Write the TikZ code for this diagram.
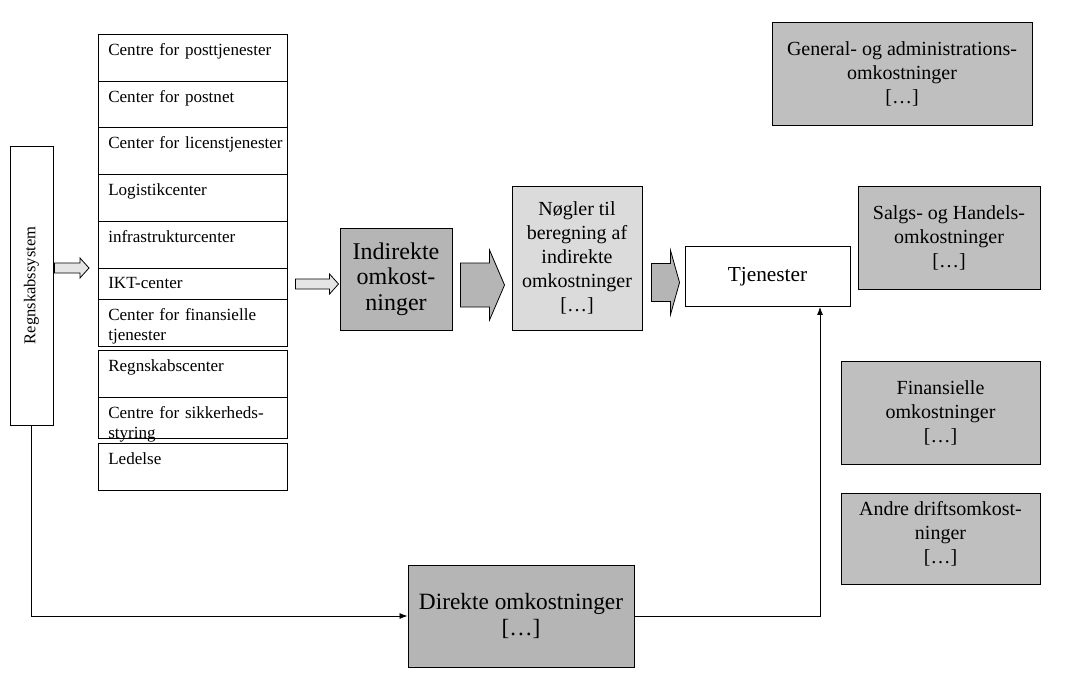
\documentclass[tikz,border=0pt]{standalone}
\usepackage{fontspec}
\setmainfont{Liberation Serif}
\usetikzlibrary{arrows.meta,calc}
\definecolor{darkfill}{gray}{0.71}
\definecolor{costfill}{gray}{0.75}
\definecolor{keyfill}{gray}{0.86}
\definecolor{hollowfill}{gray}{0.90}
\newcommand{\blockarrow}[6]{%
  \draw[#1] let \p1=(#2), \p2=(#3) in
    (\x1,\y1+#4) -- (\x2-#6,\y1+#4) -- (\x2-#6,\y1+#5) -- (\x2,\y1)
    -- (\x2-#6,\y1-#5) -- (\x2-#6,\y1-#4) -- (\x1,\y1-#4) -- cycle;}
\tikzset{
  box/.style={draw,line width=0.7pt,align=center,inner sep=2pt},
  costbox/.style={box,fill=costfill,font=\fontsize{15}{18}\selectfont},
  rowtext/.style={anchor=north west,inner sep=0pt,text width=150pt,align=left,font=\fontsize{12.8}{15}\selectfont},
  hollow/.style={draw,line width=0.6pt,fill=hollowfill},
  fat/.style={draw,line width=0.6pt,fill=darkfill},
  link/.style={line width=0.6pt,-{Latex[length=6pt,width=4.5pt]}}
}
\begin{document}
\begin{tikzpicture}[x=0.75pt,y=-0.75pt]
        \useasboundingbox (0,0) rectangle (1066,682);
        \node[box,minimum width=32.25pt,minimum height=209.25pt,font=\fontsize{12.4}{14}\selectfont] (regn) at (31.5,285.5) {\rotatebox{90}{Regnskabssystem}};
        \foreach \ya/\yb/\txt [count=\i] in {34/81/{\makebox[127.5pt][s]{Centre for posttjenester}},
            81/127/{Center for postnet}, 127/174/{Center for licenstjenester},
            174/221/{Logistikcenter}, 221/268/{infrastrukturcenter}, 268/299/{IKT-center},
            299/346/{Center for finansielle\\tjenester}, 350/397/{Regnskabscenter},
            397/438/{\makebox[134pt][s]{Centre for sikkerheds-}\\styring}, 443/490/{Ledelse}}{
            \draw[line width=0.6pt] (98,\ya) rectangle (287,\yb);
            \node[rowtext] (c\i) at (108,\ya+9) {\txt};
        }
        \node[box,fill=darkfill,minimum width=84pt,minimum height=76.5pt,font=\fontsize{18}{19}\selectfont] (indir) at (396,279) {Indirekte\\omkost-\\ninger};
        \node[box,fill=keyfill,minimum width=97.5pt,minimum height=108pt,font=\fontsize{15}{18}\selectfont] (nogle) at (577,258) {Nøgler til\\beregning af\\indirekte\\omkostninger\\{[…]}};
        \node[box,minimum width=123.75pt,minimum height=45pt,font=\fontsize{16}{18}\selectfont] (tjen) at (767.5,276.5) {Tjenester};
        \node[costbox,minimum width=195pt,minimum height=77.25pt] (genadm) at (902,73.5) {General- og administrations-\\omkostninger\\{[…]}};
        \node[costbox,minimum width=136.5pt,minimum height=77.25pt] (salg) at (949,237.5) {Salgs- og Handels-\\omkostninger\\{[…]}};
        \node[costbox,minimum width=149.25pt,minimum height=77.25pt] (finans) at (940.5,412.5) {Finansielle\\omkostninger\\{[…]}};
        \node[costbox,minimum width=149.25pt,minimum height=68.25pt,text depth=9pt] (andre) at (940.5,538.5) {Andre driftsomkost-\\ninger\\{[…]}};
        \node[box,fill=darkfill,minimum width=169.5pt,minimum height=76.5pt,font=\fontsize{17.5}{20}\selectfont] (direkte) at (521,616) {Direkte omkostninger\\{[…]}};
        \blockarrow{hollow}{[shift={(1,-17.5)}]regn.east}{[shift={(-19,0)}]c1.west}{3.75pt}{7.5pt}{6.75pt}
        \blockarrow{hollow}{[shift={(-44,5)}]indir.west}{[shift={(-1,0)}]indir.west}{3.75pt}{7.5pt}{6.75pt}
        \blockarrow{fat}{[shift={(8,6)}]indir.east}{[shift={(-7,0)}]nogle.west}{16.5pt}{26.25pt}{11.25pt}
        \blockarrow{fat}{[shift={(-33,6)}]tjen.west}{[shift={(-5,0)}]tjen.west}{14.25pt}{24pt}{6.75pt}
        \draw[link] (regn.south) |- (direkte.west);
        \draw[link] (direkte.east) -| ([shift={(52.5,0)}]tjen.south);
\end{tikzpicture}
\end{document}
